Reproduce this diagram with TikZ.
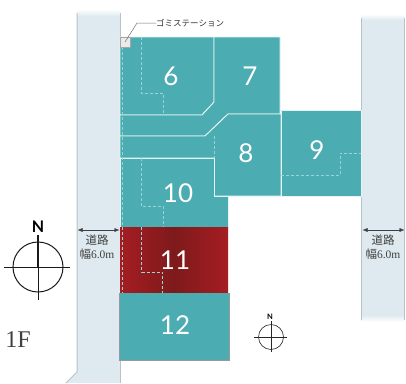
\documentclass[tikz,border=0pt]{standalone}
\usepackage{fontspec}
\setmainfont{Liberation Serif}
\newfontfamily\lotfont{Lato}
\newfontfamily\jpfont{Noto Sans CJK JP}
\usetikzlibrary{arrows.meta}
\usetikzlibrary{calc}
\definecolor{lotteal}{HTML}{4BACB2}
\definecolor{lotred}{HTML}{A51D23}
\definecolor{lotdark}{HTML}{7E1A1B}
\definecolor{roadblue}{HTML}{DFEAF0}
\definecolor{roadedge}{HTML}{B8C3C9}
\tikzstyle{lot} = [fill = lotteal, draw = white!85!lotteal, line width = 0.9pt, line join = round]
\tikzstyle{road} = [fill = roadblue]
\tikzstyle{roadline} = [draw = roadedge, line width = 1pt]
\tikzstyle{setback} = [draw = white!45!lotteal, densely dashed, line width = 0.5pt]
\tikzstyle{lotnum} = [text = white, font = \lotfont\fontsize{26}{26}\selectfont, inner sep = 0pt]
\tikzstyle{width<->} = [{Latex[length = 5pt, width = 4pt]}-{Latex[length = 5pt, width = 4pt]}, line width = 0.4pt, black!75]
\tikzstyle{roadtext} = [font = \fontsize{11.5}{14}\selectfont, text = black!75, inner sep = 0pt, align = center]
\begin{document}
\begin{tikzpicture}[x = 1pt, y = -1pt]
	\useasboundingbox (0, 0) rectangle (406, 383);
	% Roads
	\fill[road] (77, 16) -- (120, 16) -- (120, 383) -- (66, 383) -- (77, 372) -- cycle;
	\shade[top color = white, bottom color = roadblue] (77, 9) rectangle (120, 16);
	\draw[roadline] (77, 13) -- (77, 372) -- (66, 383);
	\draw[roadline] (120, 13) -- (120, 383);
	\fill[road] (361, 20) rectangle (404.5, 315);
	\shade[top color = white, bottom color = roadblue] (361, 14) rectangle (404.5, 20);
	\shade[top color = roadblue, bottom color = white] (361, 315) rectangle (404.5, 322);
	\draw[roadline] (361.5, 18) -- (361.5, 320);
	\draw[roadline] (404.5, 18) -- (404.5, 320);
	% Lots
	\path[lot] (120, 37) -- (214, 37) -- (214, 102) -- (202, 115) -- (120, 115) -- cycle;
	\path[lot] (214, 37) -- (280, 37) -- (280, 114) -- (228, 114) -- (205, 136) -- (120, 136) -- (120, 115) -- (202, 115) -- (214, 102) -- cycle;
	\path[lot] (120, 136) -- (205, 136) -- (228, 114) -- (281, 114) -- (281, 196) -- (214, 196) -- (214, 158) -- (120, 158) -- cycle;
	\path[lot] (281, 110) -- (361, 110) -- (361, 196) -- (281, 196) -- cycle;
	\path[lot] (120, 158) -- (214, 158) -- (214, 196) -- (228, 196) -- (228, 227) -- (120, 227) -- cycle;
	\fill[left color = lotred, right color = lotred, middle color = lotdark] (120, 227) rectangle (228, 293);
	\fill[lotteal] (119, 293) rectangle (229, 360);
	\draw[black!40, line width = 0.6pt] (119, 293) -- (119, 360) -- (229, 360) -- (229, 293);
	% Setback lines
	\draw[setback] (122, 37) -- (122, 293);
	\draw[setback] (141, 37) -- (141, 93) -- (163, 93) -- (163, 115);
	\draw[setback] (214, 136) -- (214, 158);
	\draw[setback] (141, 158) -- (141, 206) -- (163, 206) -- (163, 227);
	\draw[setback] (141.5, 227) -- (141.5, 272) -- (162.5, 272) -- (162.5, 293);
	\draw[setback] (281, 175) -- (340, 175) -- (340, 153) -- (361, 153);
	% Lot numbers
	\node[lotnum] (n6) at (171, 76) {6};
	\node[lotnum] (n7) at (250, 76) {7};
	\node[lotnum] (n8) at (246, 153) {8};
	\node[lotnum] (n9) at (317, 150) {9};
	\node[lotnum] (n10) at (178, 193) {10};
	\node[lotnum] (n11) at (175, 260) {11};
	\node[lotnum] (n12) at (175, 325) {12};
	% Garbage station
	\draw[black!35, fill = white!92!black, line width = 0.9pt] (120.5, 37.5) rectangle (130, 47);
	\node[font = \jpfont\fontsize{8.5}{10}\selectfont, text = black!80, anchor = west, inner sep = 0pt] (gomi) at (156, 23) {ゴミステーション};
	\coordinate (gomiBox) at (125, 42);
	\coordinate (gomiBend) at (137, 23);
	\draw[black!55, line width = 0.5pt] (gomiBox) -- (gomiBend) -- (gomi.west);
	% Road widths
	\coordinate (leftA) at (77.5, 230);
	\coordinate (leftB) at (119.5, 230);
	\coordinate (rightA) at (362.5, 230);
	\coordinate (rightB) at (404.5, 230);
	\draw[width<->] (leftA) -- (leftB);
	\draw[width<->] (rightA) -- (rightB);
	\node[roadtext] (roadL) at (97, 247) {{\jpfont 道路}\\{\jpfont 幅}6.0m};
	\node[roadtext] (roadR) at (383, 247) {{\jpfont 道路}\\{\jpfont 幅}6.0m};
	% Compasses
	\draw[line width = 1pt, black!90] (38, 267) circle (25);
	\draw[line width = 0.7pt, black!90] (4, 267) -- (70, 267);
	\draw[line width = 0.7pt, black!90] (38, 267) -- (38, 300);
	\draw[line width = 2.2pt, black!90] (38, 235) -- (38, 267);
	\node[font = \lotfont\bfseries\fontsize{16}{16}\selectfont, inner sep = 0pt] (northBig) at (38, 227) {N};
	\draw[line width = 0.6pt, black!85] (271, 337) circle (12.5);
	\draw[line width = 0.5pt, black!85] (254, 337) -- (287, 337);
	\draw[line width = 0.5pt, black!85] (271, 337) -- (271, 352);
	\draw[line width = 1pt, black!85] (271, 321) -- (271, 337);
	\node[font = \lotfont\bfseries\fontsize{7.5}{8}\selectfont, inner sep = 0pt] (northSmall) at (270, 317) {N};
	% Floor
	\node[font = \fontsize{24}{24}\selectfont, text = black!75, inner sep = 0pt] (floor) at (18, 340) {1F};
\end{tikzpicture}
\end{document}
